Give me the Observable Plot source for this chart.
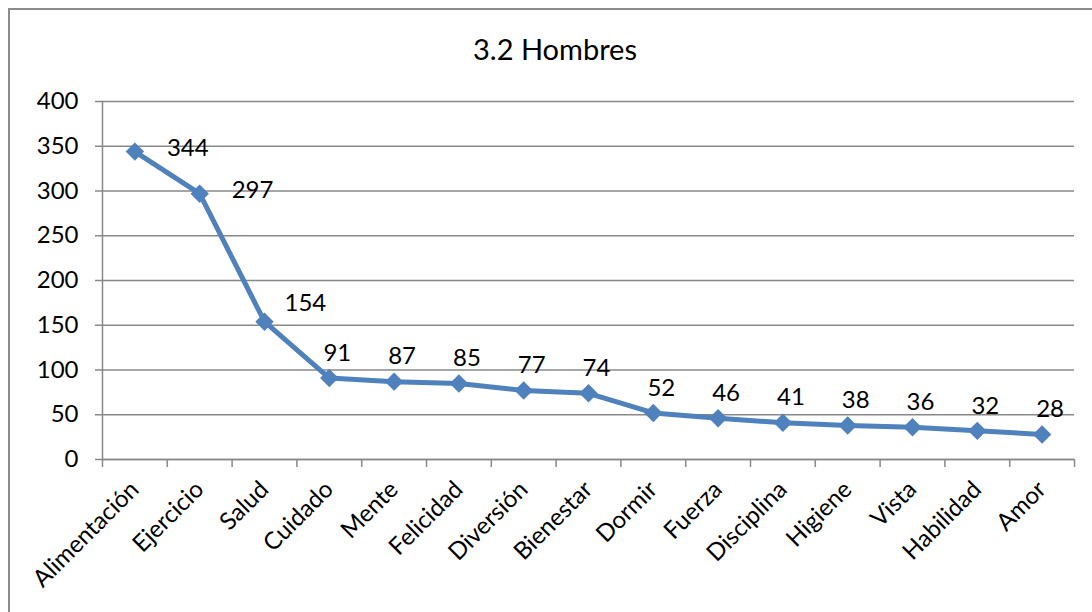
<!DOCTYPE html>
<html>
<head>
<meta charset="utf-8">
<script src="https://cdn.jsdelivr.net/npm/d3@7"></script>
<script src="https://cdn.jsdelivr.net/npm/@observablehq/plot@0.6"></script>
<style>
  html, body { margin: 0; padding: 0; background: #fff; }
  #wrap { position: relative; width: 1092px; height: 612px; overflow: hidden; font-family: Lato, "Open Sans", sans-serif; }
  #frame { position: absolute; left: 8px; top: 8px; width: 1200px; height: 700px; border-left: 2px solid #8c8c8c; border-top: 2px solid #8c8c8c; box-sizing: border-box; }
  #title { position: absolute; left: 18px; right: 0; top: 32px; text-align: center; font-size: 29px; line-height: 1.2; color: #000; }
  #chart { position: absolute; left: 0; top: 80px; }
</style>
</head>
<body>
<div id="wrap">
  <div id="frame"></div>
  <div id="title">3.2 Hombres</div>
  <div id="chart"></div>
</div>
<script>
const categories = ["Alimentación","Ejercicio","Salud","Cuidado","Mente","Felicidad","Diversión","Bienestar","Dormir","Fuerza","Disciplina","Higiene","Vista","Habilidad","Amor"];
const values = [344, 297, 154, 91, 87, 85, 77, 74, 52, 46, 41, 38, 36, 32, 28];
const yTicks = [0, 50, 100, 150, 200, 250, 300, 350, 400];

const data = categories.map((c, i) => ({cat: c, idx: i + 0.5, i, value: values[i]}));
const blue = "#4F81BD";
const gray = "#888888";
const fs = 24;

const chart = Plot.plot({
  width: 1092,
  height: 532,
  marginLeft: 102,
  marginRight: 18,
  marginTop: 21,
  marginBottom: 153,
  style: {fontFamily: "Lato, 'Open Sans', sans-serif", fontSize: fs + "px", color: "#000", background: "transparent"},
  x: {domain: [0, categories.length], axis: null},
  y: {domain: [0, 400], axis: null},
  marks: [
    Plot.gridY(yTicks, {stroke: gray, strokeOpacity: 1, strokeWidth: 1.5}),
    Plot.axisY(yTicks, {label: null, tickSize: 7, tickPadding: 17, stroke: gray, strokeWidth: 1.5, fill: "#000", fontSize: fs}),
    Plot.axisX(d3.range(0, categories.length + 1), {label: null, tickSize: 8, tickFormat: () => "", stroke: gray, strokeWidth: 1.5}),
    Plot.ruleY([0], {stroke: gray, strokeWidth: 1.5}),
    Plot.ruleX([0], {stroke: gray, strokeWidth: 1.5}),
    Plot.axisX(data.map(d => d.idx), {
      label: null,
      tickSize: 0,
      tickPadding: 26,
      tickRotate: -45,
      tickFormat: v => categories[Math.floor(v)],
      fill: "#000",
      fontSize: fs
    }),
    Plot.line(data, {x: "idx", y: "value", stroke: blue, strokeWidth: 5}),
    Plot.dot(data, {x: "idx", y: "value", symbol: "diamond2", fill: blue, r: 8.3}),
    Plot.text(data.filter(d => d.i < 2), {x: "idx", y: "value", text: "value", textAnchor: "start", dx: 32, dy: -3, fill: "#000", fontSize: fs}),
    Plot.text(data.filter(d => d.i === 2), {x: "idx", y: "value", text: "value", textAnchor: "start", dx: 20, dy: -18, fill: "#000", fontSize: fs}),
    Plot.text(data.filter(d => d.i > 2), {x: "idx", y: "value", text: "value", dx: 8, dy: -25, fill: "#000", fontSize: fs})
  ]
});
document.getElementById("chart").appendChild(chart);
</script>
</body>
</html>
